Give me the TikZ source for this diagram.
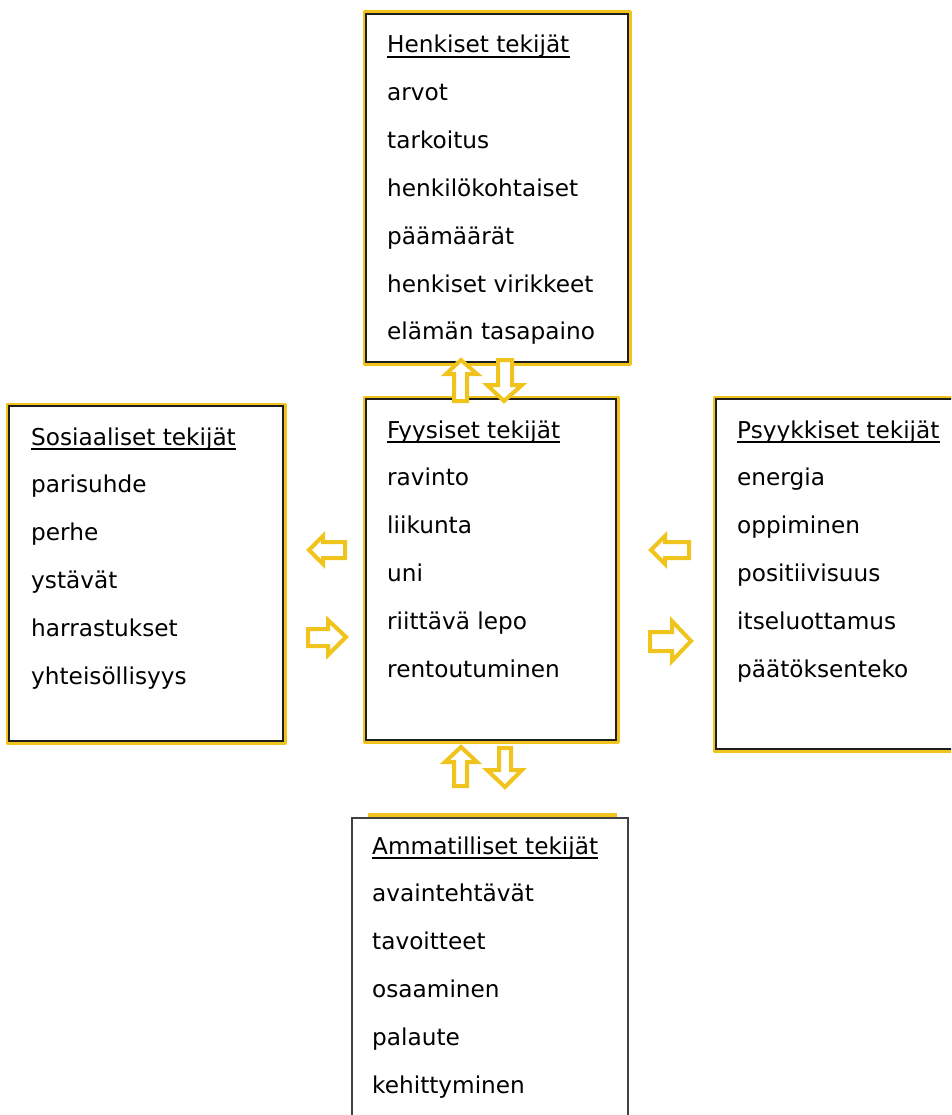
\documentclass[tikz,border=0pt]{standalone}
\usepackage{fontspec}
\setmainfont{DejaVu Sans}
\definecolor{gold}{RGB}{240,196,28}
\definecolor{edge}{RGB}{30,30,30}
\tikzset{
  txt/.style={anchor=base west, inner sep=0pt, font=\fontsize{23.2}{27}\selectfont, text=black},
  ulin/.style={line width=2pt, black},
  goldline/.style={draw=gold, line width=4pt, line join=round},
  inline/.style={draw=edge, line width=1.8pt},
  blockarrow/.style={draw=gold, fill=white, line width=4pt, line join=miter},
}
\begin{document}
\begin{tikzpicture}[x=1pt,y=-1pt]
\useasboundingbox (0,0) rectangle (951,1115);
\clip (0,0) rectangle (951,1115);

% ---------- boxes ----------
% top box
\draw[goldline] (364.5,12.5) rectangle (629.5,363.5);
\draw[inline] (366,14) rectangle (628,362);
% center box
\draw[goldline] (364.5,397.5) rectangle (617.5,741.5);
\draw[inline] (366,399) rectangle (616,740);
% left box
\draw[goldline] (7.5,404.5) rectangle (284.5,742.5);
\draw[inline] (9,406) rectangle (283,741);
% right box
\draw[goldline] (714.5,397.5) rectangle (970,750.5);
\draw[inline] (716,399) rectangle (968,749);
% bottom box
\draw[draw=gold, line width=3.5pt] (368,815) -- (617,815);
\draw[draw=edge!85, line width=1.8pt] (352,1130) -- (352,818) -- (628,818) -- (628,1130);

% ---------- texts ----------
\def\sp{47.8}
% top
\node[txt] (h0) at (387,53) {Henkiset tekijät};
\node[txt] (h1) at (387,53+\sp) {arvot};
\node[txt] (h2) at (387,53+2*\sp) {tarkoitus};
\node[txt] (h3) at (387,53+3*\sp) {henkilökohtaiset};
\node[txt] (h4) at (387,53+4*\sp) {päämäärät};
\node[txt] (h5) at (387,53+5*\sp) {henkiset virikkeet};
\node[txt] (h6) at (387,53+6*\sp) {elämän tasapaino};
% center
\node[txt] (f0) at (387,438) {Fyysiset tekijät};
\node[txt] (f1) at (387,438+\sp) {ravinto};
\node[txt] (f2) at (387,438+2*\sp) {liikunta};
\node[txt] (f3) at (387,438+3*\sp) {uni};
\node[txt] (f4) at (387,438+4*\sp) {riittävä lepo};
\node[txt] (f5) at (387,438+5*\sp) {rentoutuminen};
% left
\node[txt] (s0) at (31,445) {Sosiaaliset tekijät};
\node[txt] (s1) at (31,445+\sp) {parisuhde};
\node[txt] (s2) at (31,445+2*\sp) {perhe};
\node[txt] (s3) at (31,445+3*\sp) {ystävät};
\node[txt] (s4) at (31,445+4*\sp) {harrastukset};
\node[txt] (s5) at (31,445+5*\sp) {yhteisöllisyys};
% right
\node[txt] (p0) at (737,438) {Psyykkiset tekijät};
\node[txt] (p1) at (737,438+\sp) {energia};
\node[txt] (p2) at (737,438+2*\sp) {oppiminen};
\node[txt] (p3) at (737,438+3*\sp) {positiivisuus};
\node[txt] (p4) at (737,438+4*\sp) {itseluottamus};
\node[txt] (p5) at (737,438+5*\sp) {päätöksenteko};
% bottom
\node[txt] (a0) at (372,854) {Ammatilliset tekijät};
\node[txt] (a1) at (372,854+\sp) {avaintehtävät};
\node[txt] (a2) at (372,854+2*\sp) {tavoitteet};
\node[txt] (a3) at (372,854+3*\sp) {osaaminen};
\node[txt] (a4) at (372,854+4*\sp) {palaute};
\node[txt] (a5) at (372,854+5*\sp) {kehittyminen};

% underlines
\foreach \n in {h0,f0,s0,p0,a0}
  \draw[ulin] ([yshift=-4pt]\n.base west) -- ([yshift=-4pt]\n.base east);

% ---------- block arrows ----------
% top pair: up
\draw[blockarrow] (461,360) -- (477,374) -- (467,374) -- (467,401) -- (454,401) -- (454,374) -- (446,374) -- cycle;
% top pair: down
\draw[blockarrow] (504,401) -- (522,385) -- (512,385) -- (512,360) -- (498,360) -- (498,385) -- (487,385) -- cycle;
% bottom pair: up
\draw[blockarrow] (461,747) -- (477,762) -- (467,762) -- (467,786) -- (454,786) -- (454,762) -- (445,762) -- cycle;
% bottom pair: down
\draw[blockarrow] (505,787) -- (522,770) -- (511,770) -- (511,748) -- (499,748) -- (499,770) -- (487,770) -- cycle;
% left side: left-pointing
\draw[blockarrow] (309,550) -- (323,536) -- (323,542) -- (345,542) -- (345,558) -- (323,558) -- (323,564) -- cycle;
% left side: right-pointing
\draw[blockarrow] (346,637) -- (328,620) -- (328,629) -- (308,629) -- (308,646) -- (328,646) -- (328,655) -- cycle;
% right side: left-pointing
\draw[blockarrow] (651,550) -- (665,536) -- (665,542) -- (689,542) -- (689,558) -- (665,558) -- (665,564) -- cycle;
% right side: right-pointing
\draw[blockarrow] (691,641) -- (672,621) -- (672,632) -- (650,632) -- (650,651) -- (672,651) -- (672,661) -- cycle;

\end{tikzpicture}
\end{document}
